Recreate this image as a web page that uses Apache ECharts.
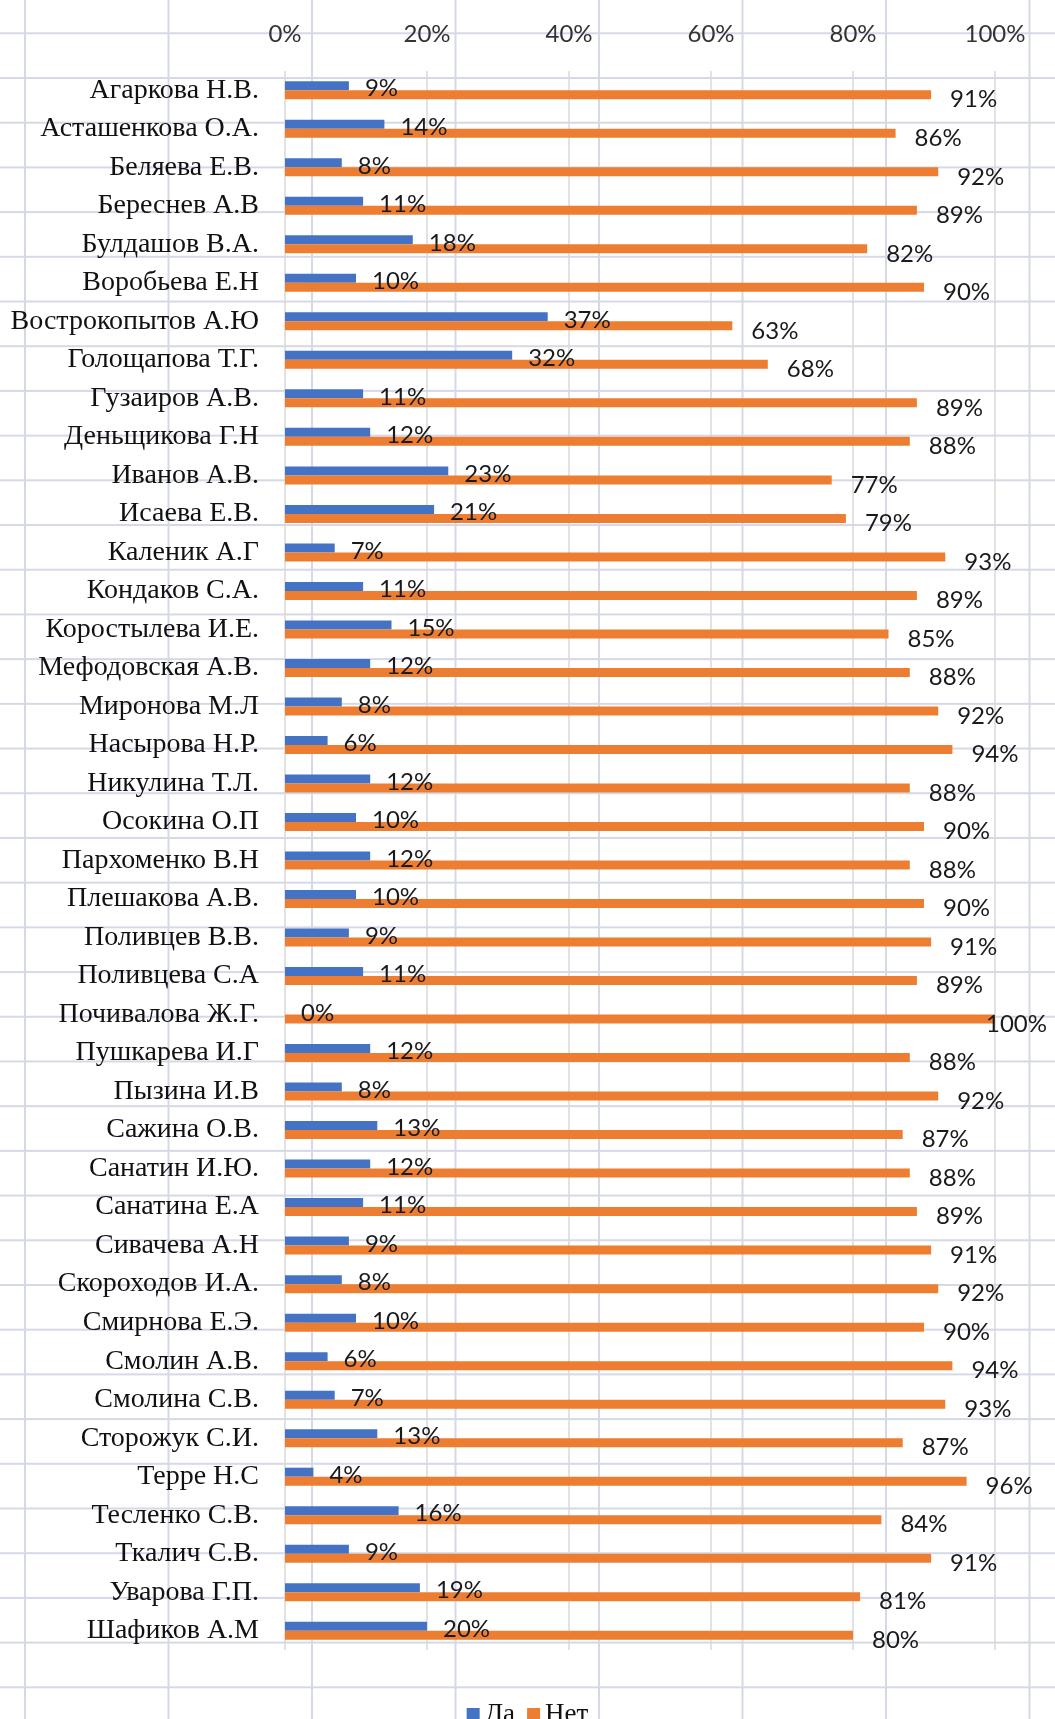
<!DOCTYPE html>
<html lang="ru">
<head>
    <meta charset="UTF-8">
    <title>Да / Нет</title>
    <style>
        html, body {
            margin: 0;
            padding: 0;
            background-color: #fff;
        }
        /* spreadsheet cells behind the chart */
        #sheet {
            width: 1055px;
            height: 1719px;
            background-image:
                linear-gradient(to right, #d5d9e6 2px, transparent 2px),
                linear-gradient(to bottom, #d5d9e6 2px, transparent 2px);
            background-size: 143.5px 100%, 100% 44.71px;
            background-position: 24px 0, 0 32.3px;
        }
        #main {
            width: 1055px;
            height: 1719px;
        }
    </style>
    <script type="text/javascript" src="https://cdn.jsdelivr.net/npm/echarts@6/dist/echarts.min.js"></script>
</head>
<body>
<div id="sheet"><div id="main"></div></div>
<script type="text/javascript">
    var names = ["Агаркова Н.В.", "Асташенкова О.А.", "Беляева Е.В.", "Береснев А.В", "Булдашов В.А.",
        "Воробьева Е.Н", "Вострокопытов А.Ю", "Голощапова Т.Г.", "Гузаиров А.В.", "Деньщикова Г.Н",
        "Иванов А.В.", "Исаева Е.В.", "Каленик А.Г", "Кондаков С.А.", "Коростылева И.Е.",
        "Мефодовская А.В.", "Миронова М.Л", "Насырова Н.Р.", "Никулина Т.Л.", "Осокина О.П",
        "Пархоменко В.Н", "Плешакова А.В.", "Поливцев В.В.", "Поливцева С.А", "Почивалова Ж.Г.",
        "Пушкарева И.Г", "Пызина И.В", "Сажина О.В.", "Санатин И.Ю.", "Санатина Е.А",
        "Сивачева А.Н", "Скороходов И.А.", "Смирнова Е.Э.", "Смолин А.В.", "Смолина С.В.",
        "Сторожук С.И.", "Терре Н.С", "Тесленко С.В.", "Ткалич С.В.", "Уварова Г.П.", "Шафиков А.М"];
    var yes = [9, 14, 8, 11, 18, 10, 37, 32, 11, 12,
        23, 21, 7, 11, 15, 12, 8, 6, 12, 10,
        12, 10, 9, 11, 0, 12, 8, 13, 12, 11,
        9, 8, 10, 6, 7, 13, 4, 16, 9, 19, 20];
    var no = [91, 86, 92, 89, 82, 90, 63, 68, 89, 88,
        77, 79, 93, 89, 85, 88, 92, 94, 88, 90,
        88, 90, 91, 89, 100, 88, 92, 87, 88, 89,
        91, 92, 90, 94, 93, 87, 96, 84, 91, 81, 80];
    var ticks = [0, 20, 40, 60, 80, 100];

    // a label at the very end of the axis gets pulled back so it stays on the page
    var noData = no.map(function (v) {
        if (v >= ticks[ticks.length - 1]) {
            return {value: v, label: {distance: -9}};
        }
        return v;
    });

    var chart = echarts.init(document.getElementById('main'));
    var option = {
        backgroundColor: 'transparent',
        animation: false,
        grid: {
            left: 285,
            right: 60,
            top: 71,
            bottom: 69
        },
        legend: {
            data: ['Да', 'Нет'],
            left: 'center',
            top: 1696,
            icon: 'rect',
            itemWidth: 13,
            itemHeight: 13,
            itemGap: 12,
            textStyle: {
                fontFamily: 'Liberation Serif',
                fontSize: 27,
                color: '#111'
            }
        },
        xAxis: {
            type: 'value',
            position: 'top',
            min: ticks[0],
            max: ticks[ticks.length - 1],
            interval: ticks[1] - ticks[0],
            axisLine: {show: false},
            axisTick: {show: false},
            axisLabel: {
                margin: 25,
                formatter: '{value}%',
                fontFamily: 'Lato',
                fontSize: 24,
                color: '#333'
            },
            splitLine: {
                lineStyle: {color: '#d9d9d9', width: 1.5}
            }
        },
        yAxis: {
            type: 'category',
            inverse: true,
            data: names,
            axisLine: {show: false},
            axisTick: {show: false},
            axisLabel: {
                margin: 26,
                padding: [6, 0, 0, 0],
                fontFamily: 'Liberation Serif',
                fontSize: 28,
                color: '#111'
            }
        },
        series: [
            {
                name: 'Да',
                type: 'bar',
                data: yes,
                barWidth: 9,
                barGap: '0%',
                itemStyle: {color: '#4472c4'},
                label: {
                    show: true,
                    position: 'right',
                    distance: 16,
                    offset: [0, 3],
                    formatter: '{c}%',
                    fontFamily: 'Lato',
                    fontSize: 24,
                    color: '#1a1a1a'
                }
            },
            {
                name: 'Нет',
                type: 'bar',
                data: noData,
                barWidth: 9,
                itemStyle: {color: '#ed7d31'},
                label: {
                    show: true,
                    position: 'right',
                    distance: 19,
                    offset: [0, 5],
                    formatter: '{c}%',
                    fontFamily: 'Lato',
                    fontSize: 24,
                    color: '#1a1a1a'
                }
            }
        ]
    };
    chart.setOption(option);
</script>
</body>
</html>
